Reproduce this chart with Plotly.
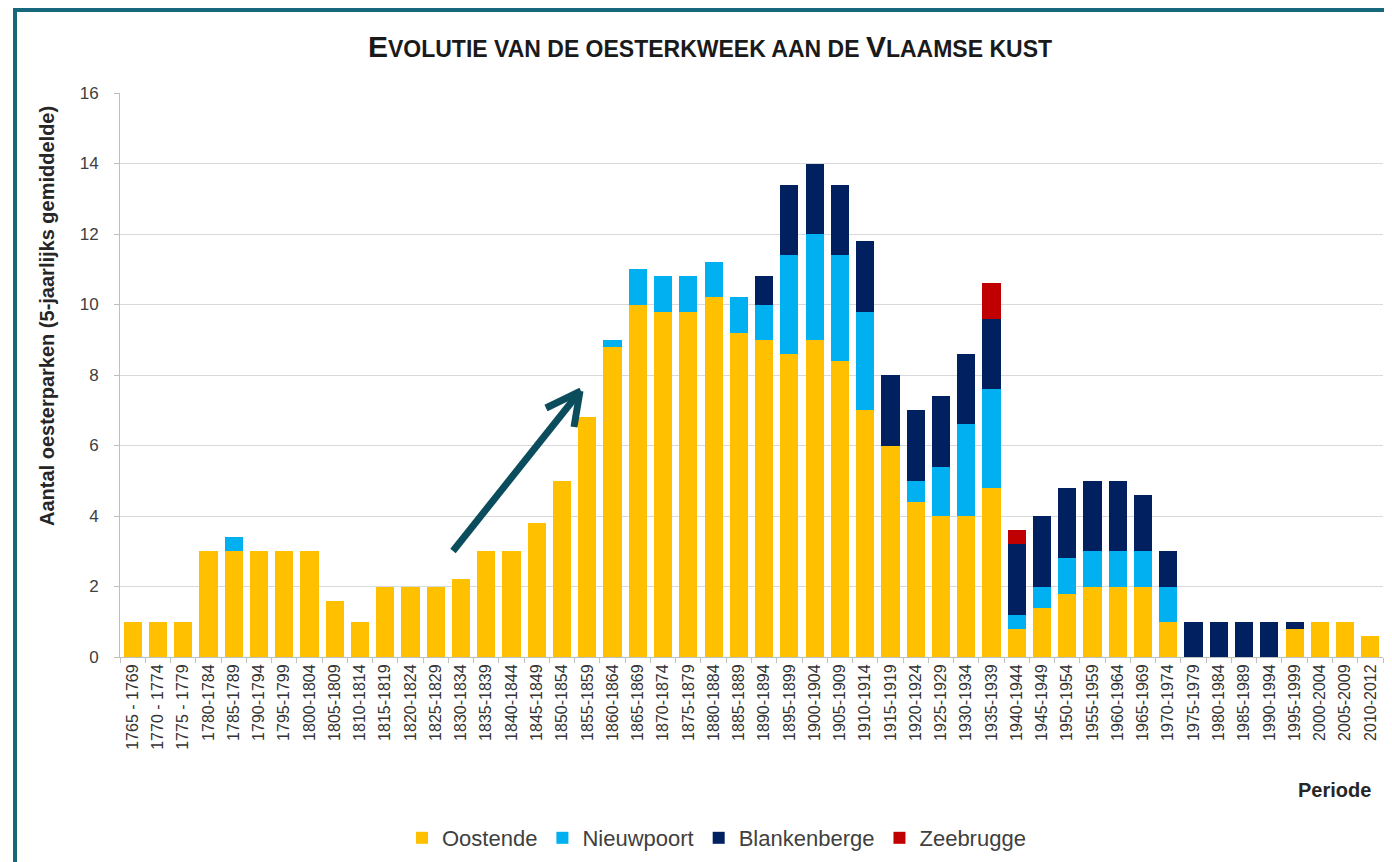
import plotly.graph_objects as go

periods = ["1765 - 1769", "1770 - 1774", "1775 - 1779", "1780-1784", "1785-1789", "1790-1794",
           "1795-1799", "1800-1804", "1805-1809", "1810-1814", "1815-1819", "1820-1824",
           "1825-1829", "1830-1834", "1835-1839", "1840-1844", "1845-1849", "1850-1854",
           "1855-1859", "1860-1864", "1865-1869", "1870-1874", "1875-1879", "1880-1884",
           "1885-1889", "1890-1894", "1895-1899", "1900-1904", "1905-1909", "1910-1914",
           "1915-1919", "1920-1924", "1925-1929", "1930-1934", "1935-1939", "1940-1944",
           "1945-1949", "1950-1954", "1955-1959", "1960-1964", "1965-1969", "1970-1974",
           "1975-1979", "1980-1984", "1985-1989", "1990-1994", "1995-1999", "2000-2004",
           "2005-2009", "2010-2012"]

oostende = [1, 1, 1, 3, 3, 3, 3, 3, 1.6, 1,
            2, 2, 2, 2.2, 3, 3, 3.8, 5, 6.8, 8.8,
            10, 9.8, 9.8, 10.2, 9.2, 9.0, 8.6, 9.0, 8.4, 7.0,
            6.0, 4.4, 4.0, 4.0, 4.8, 0.8, 1.4, 1.8, 2, 2,
            2, 1, 0, 0, 0, 0, 0.8, 1, 1, 0.6]
nieuwpoort = [0, 0, 0, 0, 0.4, 0, 0, 0, 0, 0,
              0, 0, 0, 0, 0, 0, 0, 0, 0, 0.2,
              1, 1, 1, 1, 1, 1, 2.8, 3, 3, 2.8,
              0, 0.6, 1.4, 2.6, 2.8, 0.4, 0.6, 1, 1, 1,
              1, 1, 0, 0, 0, 0, 0, 0, 0, 0]
blankenberge = [0, 0, 0, 0, 0, 0, 0, 0, 0, 0,
                0, 0, 0, 0, 0, 0, 0, 0, 0, 0,
                0, 0, 0, 0, 0, 0.8, 2, 2, 2, 2,
                2, 2, 2, 2, 2, 2, 2, 2, 2, 2,
                1.6, 1, 1, 1, 1, 1, 0.2, 0, 0, 0]
zeebrugge = [0, 0, 0, 0, 0, 0, 0, 0, 0, 0,
             0, 0, 0, 0, 0, 0, 0, 0, 0, 0,
             0, 0, 0, 0, 0, 0, 0, 0, 0, 0,
             0, 0, 0, 0, 1, 0.4, 0, 0, 0, 0,
             0, 0, 0, 0, 0, 0, 0, 0, 0, 0]

series = [("Oostende", oostende, "#FFC000"),
          ("Nieuwpoort", nieuwpoort, "#00B0F0"),
          ("Blankenberge", blankenberge, "#002060"),
          ("Zeebrugge", zeebrugge, "#C00000")]

# the page body has an 8px margin, so the figure is drawn 8px in from the window edge
OFF = 8
W_FIG, H_FIG = 1392 - OFF, 862 - OFF
L, R, T, B = 120 - OFF, 9, 93 - OFF, 205
PW = W_FIG - L - R
PH = H_FIG - T - B


def px(x):  # screen x -> paper
    return (x - OFF - L) / PW


def py(y):  # screen y -> paper
    return (H_FIG - B - (y - OFF)) / PH


FONT = "Liberation Sans, Arial, sans-serif"
NARROW = "Liberation Sans Narrow, Liberation Sans, Arial, sans-serif"

fig = go.Figure()
for name, vals, col in series:
    fig.add_trace(go.Bar(x=periods, y=vals, name=name,
                         marker=dict(color=col, line=dict(width=0))))

title_words = ["EVOLUTIE", "VAN", "DE", "OESTERKWEEK", "AAN", "DE", "VLAAMSE", "KUST"]
big = {"EVOLUTIE", "VLAAMSE"}
parts = []
for w in title_words:
    if w in big:
        parts.append(f"<span style='font-size:30px'>{w[0]}</span>{w[1:]}")
    else:
        parts.append(w)
title_html = "<b>" + " ".join(parts) + "</b>"

shapes = []
# light decorative shapes on top
shapes.append(dict(type="path", xref="paper", yref="paper",
                   path=f"M {px(80)} {py(8)} L {px(200)} {py(8)} L {px(188)} {py(12)} L {px(92)} {py(12)} Z",
                   fillcolor="#e2f0f5", line=dict(width=0), layer="below"))
# teal frame
shapes.append(dict(type="line", xref="paper", yref="paper",
                   x0=px(13), x1=px(1392), y0=py(10), y1=py(10),
                   line=dict(color="#17687c", width=4)))
shapes.append(dict(type="line", xref="paper", yref="paper",
                   x0=px(15), x1=px(15), y0=py(9), y1=py(862),
                   line=dict(color="#17687c", width=4)))
# arrow
ac = "#0b4d5c"
shapes.append(dict(type="line", xref="paper", yref="paper",
                   x0=px(453), y0=py(551), x1=px(578), y1=py(394),
                   line=dict(color=ac, width=7)))
shapes.append(dict(type="line", xref="paper", yref="paper",
                   x0=px(546), y0=py(408), x1=px(581), y1=py(391),
                   line=dict(color=ac, width=7)))
shapes.append(dict(type="line", xref="paper", yref="paper",
                   x0=px(574), y0=py(427), x1=px(580), y1=py(391),
                   line=dict(color=ac, width=7)))

annotations = [
    dict(text="<b>Aantal oesterparken (5-jaarlijks gemiddelde)</b>", xref="paper", yref="paper",
         x=px(47), y=py(316), textangle=-90, showarrow=False,
         font=dict(family=FONT, size=20, color="#262626"), xanchor="center", yanchor="middle"),
    dict(text="<b>Periode</b>", xref="paper", yref="paper",
         x=px(1373), y=py(790), showarrow=False, xanchor="right", yanchor="middle",
         font=dict(family=FONT, size=20, color="#262626")),
]

fig.update_layout(
    width=W_FIG, height=H_FIG,
    barmode="stack", bargap=0.28,
    paper_bgcolor="white", plot_bgcolor="white",
    margin=dict(l=L, r=R, t=T, b=B, autoexpand=False),
    title=dict(text=title_html, x=(710 - OFF) / W_FIG, xref="container", xanchor="center",
               y=1 - (49 - OFF) / H_FIG, yref="container", yanchor="middle",
               font=dict(family=NARROW, size=23, color="#1a1a1a")),
    xaxis=dict(type="category", tickangle=-90, tickfont=dict(family=FONT, size=16, color="#333333"),
               showline=True, linecolor="#bfbfbf", linewidth=1, ticks="outside", tickson="boundaries",
               ticklen=5, tickcolor="#bfbfbf", showgrid=False, automargin=False),
    yaxis=dict(range=[0, 16], dtick=2, tickfont=dict(family=FONT, size=17, color="#404040"),
               gridcolor="#d9d9d9", gridwidth=1, showline=True, linecolor="#bfbfbf", ticks="outside",
               ticklen=5, tickcolor="#bfbfbf", zeroline=False, ticklabelstandoff=12, automargin=False),
    legend=dict(orientation="h", x=px(402), xanchor="left", y=py(838), yanchor="middle",
                font=dict(family=FONT, size=22, color="#404040"), traceorder="normal",
                itemwidth=30, bgcolor="rgba(0,0,0,0)"),
    shapes=shapes,
    annotations=annotations,
    showlegend=True,
)

fig.write_html("out.html")
